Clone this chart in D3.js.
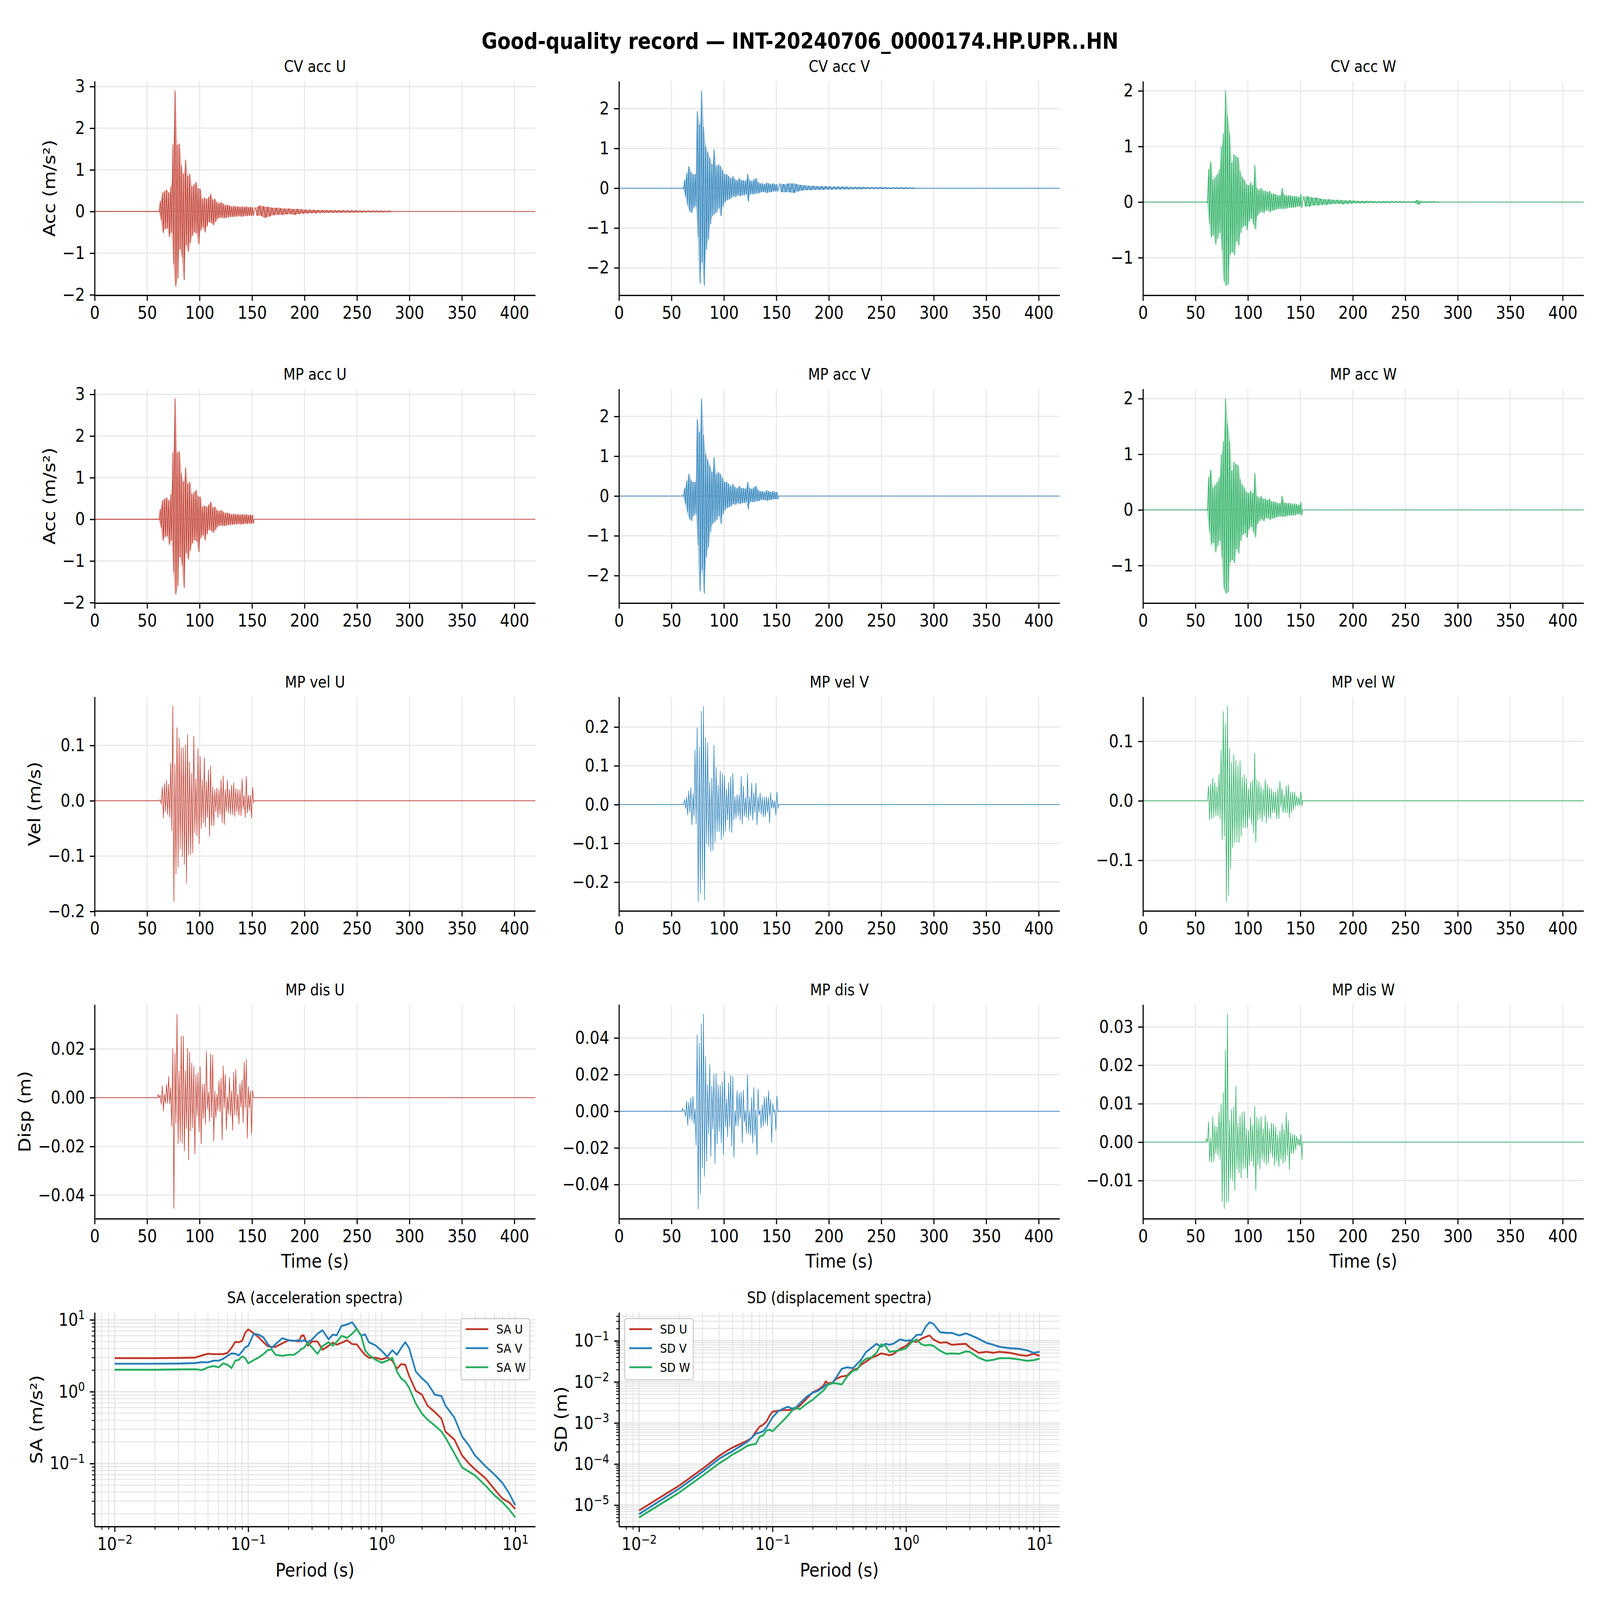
<!DOCTYPE html>
<html>
<head>
<meta charset="utf-8">
<script src="https://cdn.jsdelivr.net/npm/d3@7"></script>
<style>
  html, body { margin: 0; padding: 0; background: #fff; overflow: hidden; }
  svg { display: block; }
</style>
</head>
<body>
<div id="chart"></div>
<script>
// ---- waveform envelope data: max / min of the trace in each time bin ----
const timeDomain = [0, 420];
const timeTicks = [0, 50, 100, 150, 200, 250, 300, 350, 400];
const binT = [60,62,64,66,68,70,72,74,76,78, 80,82,84,86,88,90,92,94,96,98,
  100,102,104,106,108,110,112,114,116,118, 120,122,124,126,128,130,132,134,136,138,
  140,142,144,146,148,150];
const tailT = [152,156,160,164,168,172,176,180,184,188, 192,196,200,204,208,212,216,220,224,228,
  232,236,240,244,248,252,256,260,264,268, 272,276,280];

const accUHi = [0.01,0.25,0.45,0.49,0.52,0.45,0.6,1.6,2.9,1.6, 1.63,1.1,0.9,1.24,0.85,0.9,0.6,0.65,0.7,0.55,
  0.54,0.3,0.33,0.3,0.35,0.42,0.28,0.3,0.22,0.2, 0.22,0.18,0.15,0.16,0.14,0.12,0.13,0.12,0.12,0.11,
  0.12,0.11,0.12,0.1,0.11,0.1];
const accULo = [-0.01,-0.2,-0.51,-0.42,-0.4,-0.61,-0.5,-1.26,-1.8,-1.6, -0.9,-1.1,-1.64,-0.8,-0.96,-0.75,-0.58,-0.5,-0.53,-0.78,
  -0.45,-0.38,-0.5,-0.35,-0.25,-0.28,-0.32,-0.25,-0.18,-0.15, -0.15,-0.16,-0.15,-0.14,-0.13,-0.13,-0.12,-0.12,-0.11,-0.12,
  -0.12,-0.1,-0.11,-0.1,-0.1,-0.1];
const accUTailHi = [0.1,0.14,0.12,0.11,0.09,0.09,0.08,0.07,0.07,0.06, 0.06,0.05,0.045,0.04,0.04,0.035,0.035,0.03,0.03,0.03,
  0.028,0.028,0.025,0.025,0.025,0.022,0.02,0.02,0.02,0.018, 0.018,0.016,0.02];
const accUTailLo = [-0.1,-0.1,-0.15,-0.12,-0.09,-0.08,-0.08,-0.07,-0.06,-0.08, -0.06,-0.05,-0.045,-0.04,-0.04,-0.035,-0.03,-0.03,-0.03,-0.028,
  -0.028,-0.025,-0.025,-0.025,-0.022,-0.022,-0.02,-0.02,-0.02,-0.018, -0.018,-0.016,-0.016];

const accVHi = [0.01,0.2,0.38,0.55,0.4,0.35,0.35,1.93,1.6,2.44, 1.53,1.05,0.9,0.75,0.6,0.97,0.55,0.6,0.55,0.45,
  0.35,0.35,0.3,0.25,0.3,0.22,0.2,0.25,0.2,0.2, 0.18,0.35,0.2,0.18,0.22,0.25,0.15,0.12,0.12,0.1,
  0.14,0.12,0.1,0.12,0.1,0.1];
const accVLo = [-0.01,-0.2,-0.41,-0.58,-0.62,-0.5,-0.45,-1.22,-2.39,-1.85, -2.45,-1.54,-1.28,-0.9,-0.7,-0.65,-0.6,-0.5,-0.7,-0.45,
  -0.35,-0.3,-0.28,-0.25,-0.2,-0.22,-0.18,-0.2,-0.18,-0.18, -0.15,-0.33,-0.15,-0.15,-0.15,-0.13,-0.13,-0.1,-0.1,-0.1,
  -0.12,-0.1,-0.1,-0.08,-0.08,-0.08];
const accVTailHi = [0.12,0.1,0.12,0.12,0.1,0.08,0.07,0.06,0.06,0.05, 0.05,0.05,0.04,0.04,0.04,0.04,0.035,0.03,0.03,0.03,
  0.03,0.025,0.025,0.025,0.025,0.025,0.02,0.02,0.02,0.02, 0.02,0.018,0.015];
const accVTailLo = [-0.1,-0.1,-0.1,-0.12,-0.08,-0.06,-0.05,-0.05,-0.04,-0.04, -0.04,-0.035,-0.035,-0.03,-0.03,-0.03,-0.03,-0.025,-0.025,-0.025,
  -0.02,-0.02,-0.02,-0.02,-0.02,-0.02,-0.02,-0.018,-0.018,-0.018, -0.015,-0.015,-0.015];

const accWHi = [0.01,0.59,0.72,0.4,0.45,0.5,0.58,0.99,1.23,2.0, 1.55,1.23,0.7,0.86,0.82,0.8,0.55,0.45,0.4,0.32,
  0.3,0.35,0.3,0.66,0.25,0.22,0.25,0.2,0.2,0.18, 0.2,0.15,0.15,0.14,0.12,0.12,0.25,0.13,0.12,0.12,
  0.12,0.1,0.11,0.1,0.09,0.14];
const accWLo = [-0.01,-0.38,-0.63,-0.59,-0.76,-0.65,-0.55,-0.86,-1.42,-1.5, -1.48,-0.94,-0.9,-0.95,-0.7,-0.78,-0.55,-0.45,-0.42,-0.5,
  -0.35,-0.3,-0.4,-0.49,-0.25,-0.2,-0.17,-0.2,-0.15,-0.15, -0.18,-0.15,-0.15,-0.13,-0.12,-0.12,-0.12,-0.12,-0.11,-0.1,
  -0.1,-0.1,-0.09,-0.08,-0.08,-0.1];
const accWTailHi = [0.1,0.1,0.08,0.08,0.06,0.05,0.05,0.04,0.04,0.035, 0.03,0.03,0.025,0.02,0.02,0.02,0.018,0.015,0.015,0.015,
  0.015,0.015,0.015,0.015,0.012,0.012,0.012,0.035,0.015,0.012, 0.012,0.012,0.01];
const accWTailLo = [-0.08,-0.08,-0.06,-0.06,-0.05,-0.05,-0.04,-0.03,-0.03,-0.04, -0.03,-0.025,-0.02,-0.02,-0.02,-0.018,-0.015,-0.015,-0.015,-0.015,
  -0.015,-0.012,-0.012,-0.012,-0.012,-0.012,-0.012,-0.045,-0.012,-0.012, -0.01,-0.01,-0.01];
const accNoise = [0.008, 0.003, 0.004];

const velUHi = [0,0.002,0.025,0.031,0.037,0.03,0.068,0.171,0.066,0.132, 0.114,0.096,0.096,0.101,0.12,0.07,0.05,0.117,0.04,0.094,
  0.08,0.038,0.078,0.035,0.056,0.063,0.025,0.02,0.023,0.02, 0.038,0.045,0.02,0.037,0.02,0.028,0.032,0.022,0.02,0.02,
  0.039,0.01,0.044,0.01,0.01,0.0245];
const velULo = [0,-0.006,-0.031,-0.02,-0.025,-0.03,-0.054,-0.182,-0.132,-0.12, -0.087,-0.101,-0.115,-0.149,-0.098,-0.097,-0.094,-0.058,-0.063,-0.077,
  -0.05,-0.04,-0.047,-0.03,-0.064,-0.045,-0.045,-0.02,-0.03,-0.025, -0.039,-0.043,-0.02,-0.022,-0.025,-0.025,-0.028,-0.02,-0.026,-0.027,
  -0.015,-0.03,-0.022,-0.018,-0.031,-0.003];
const velVHi = [0,0.013,0.019,0.035,0.043,0.027,0.141,0.198,0.148,0.24, 0.253,0.173,0.16,0.058,0.068,0.153,0.096,0.05,0.086,0.08,
  0.075,0.04,0.057,0.071,0.081,0.02,0.025,0.025,0.072,0.048, 0.018,0.079,0.02,0.055,0.03,0.055,0.02,0.03,0.02,0.02,
  0.02,0.018,0.03,0.012,0.01,0.032];
const velVLo = [0,-0.01,-0.027,-0.02,-0.052,-0.03,-0.05,-0.25,-0.23,-0.192, -0.246,-0.1,-0.108,-0.12,-0.118,-0.097,-0.07,-0.07,-0.091,-0.08,
  -0.068,-0.04,-0.068,-0.072,-0.04,-0.035,-0.03,-0.04,-0.05,-0.03, -0.033,-0.04,-0.028,-0.04,-0.02,-0.052,-0.02,-0.025,-0.032,-0.03,
  -0.02,-0.047,-0.01,-0.01,-0.027,-0.01];
const velWHi = [0,0.025,0.028,0.038,0.03,0.024,0.045,0.086,0.15,0.13, 0.159,0.088,0.065,0.078,0.068,0.06,0.067,0.04,0.044,0.038,
  0.02,0.032,0.035,0.08,0.035,0.032,0.025,0.02,0.036,0.028, 0.022,0.02,0.015,0.015,0.02,0.033,0.02,0.01,0.025,0.027,
  0.015,0.015,0.015,0.008,0.006,0.015];
const velWLo = [0,-0.032,-0.03,-0.028,-0.025,-0.026,-0.03,-0.065,-0.06,-0.169, -0.159,-0.114,-0.079,-0.07,-0.069,-0.07,-0.06,-0.045,-0.046,-0.045,
  -0.03,-0.04,-0.054,-0.07,-0.032,-0.03,-0.035,-0.026,-0.037,-0.028, -0.03,-0.02,-0.02,-0.03,-0.03,-0.01,-0.02,-0.02,-0.02,-0.028,
  -0.02,-0.015,-0.01,-0.008,-0.008,-0.009];

const disUHi = [0.0014,0.001,0.0048,0.0015,0.0054,0.0087,0.0042,0.0201,0.0183,0.0342, 0.011,0.0252,0.0253,0.011,0.0204,0.0187,0.0142,0.0128,0.0095,0.0102,
  0.0127,0.0055,0.0056,0.0189,0.0023,0.018,0.0175,0.0028,0.0015,0.007, 0.0081,0.013,0.0095,0.0004,0.0083,0.0029,0.0104,0.0115,0.0015,0.0058,
  0.0073,0.0146,0.0156,0.0045,0.0028,0.003];
const disULo = [0,-0.0027,-0.0055,-0.0023,-0.0023,-0.0025,-0.0118,-0.0454,-0.0105,-0.0188, -0.018,-0.0187,-0.0218,-0.0127,-0.0255,-0.0136,-0.0125,-0.0229,-0.0075,-0.014,
  -0.0189,-0.0085,-0.0109,-0.0045,-0.0099,-0.0082,-0.0178,-0.0082,-0.0052,-0.0058, -0.0174,-0.004,-0.0132,-0.0067,-0.0075,-0.0133,-0.007,-0.0075,-0.0108,-0.0038,
  -0.0103,-0.0042,-0.0166,-0.004,-0.0148,0];
const disVHi = [0.0017,0.0004,0.0055,0.0048,0.0072,0.0082,0.0012,0.0416,0.0371,0.0479, 0.053,0.0297,0.0145,0.0254,0.0138,0.0201,0.0205,0.0142,0.0142,0.016,
  0.0218,0.0068,0.0155,0.0195,0.0189,0.0003,0.011,0.01,0.0102,0.0115, 0.0005,0.0197,0.0002,0.0075,0.013,0.0008,0.012,0.0005,0.0035,0.0078,
  0.008,0.0112,0.0065,0.0042,0.0008,0.0082];
const disVLo = [0,-0.003,-0.0077,-0.0043,-0.0053,-0.0068,-0.0185,-0.0532,-0.0451,-0.031, -0.0355,-0.0273,-0.0125,-0.0246,-0.0098,-0.0285,-0.0178,-0.011,-0.017,-0.0236,
  -0.0085,-0.014,-0.0085,-0.019,-0.0251,-0.008,-0.008,-0.004,-0.0172,-0.006, -0.012,-0.0123,-0.013,-0.0174,-0.0132,-0.0238,-0.002,-0.0092,-0.008,-0.0065,
  -0.008,-0.0025,-0.017,-0.0005,-0.0104,-0.0005];
const disWHi = [0.0009,0.0053,0.001,0.0066,0.0043,0.004,0.0077,0.0099,0.0129,0.024, 0.0333,0.0058,0.0085,0.0092,0.0145,0.005,0.007,0.0077,0.008,0.0035,
  0.003,0.0066,0.0045,0.0093,0.0065,0.006,0.0067,0.0035,0.007,0.0053, 0.0035,0.005,0.0048,0.004,0.002,0.003,0.0048,0.0035,0.0076,0.0055,
  0.0025,0.002,0.002,0.0015,0.0008,0.002];
const disWLo = [0,-0.005,-0.0053,-0.005,-0.003,-0.0035,-0.0045,-0.0155,-0.0173,-0.0157, -0.0154,-0.0095,-0.01,-0.0125,-0.007,-0.008,-0.0093,-0.007,-0.0068,-0.0094,
  -0.006,-0.005,-0.0065,-0.0125,-0.006,-0.007,-0.0045,-0.0053,-0.006,-0.0055, -0.003,-0.004,-0.006,-0.005,-0.0063,-0.0045,-0.0055,-0.005,-0.0035,-0.0072,
  -0.003,-0.003,-0.002,-0.0008,-0.001,-0.0045];

// ---- response spectra ----
const periods = [0.01,0.02,0.03,0.04,0.045,0.05,0.055,0.06,0.065,0.07, 0.075,0.08,0.085,0.09,0.095,0.1,0.11,0.12,0.13,0.14,
  0.15,0.16,0.18,0.2,0.22,0.24,0.25,0.26,0.28,0.3, 0.33,0.36,0.4,0.43,0.46,0.5,0.55,0.6,0.65,0.7,
  0.75,0.8,0.9,1.0,1.1,1.2,1.3,1.4,1.5,1.6, 1.8,2.0,2.2,2.5,2.8,3.0,3.5,4.0,4.5,5.0, 6.0,7.0,8.0,9.0,10.0];
const saU = [2.93,2.93,2.95,2.98,3.2,3.37,3.33,3.33,3.33,3.47, 4.08,4.94,4.88,5.1,6.6,7.36,6.5,5.7,4.88,4.3,
  4.2,4.2,4.7,5.2,5.1,5.0,6.0,6.1,4.35,5.0, 5.0,3.83,4.35,4.8,4.5,4.8,5.2,4.6,4.55,3.78,
  3.26,2.97,2.97,2.82,3.0,2.7,2.09,2.42,2.37,1.67, 1.03,0.91,0.64,0.52,0.42,0.278,0.215,0.129,0.1,0.083, 0.062,0.0436,0.0326,0.0288,0.0233];
const saV = [2.45,2.45,2.46,2.5,2.58,2.56,2.7,2.7,2.87,3.16, 3.41,3.37,3.2,3.64,4.14,4.35,6.4,6.2,5.7,4.6,
  4.08,4.58,5.55,5.2,5.1,5.2,5.0,5.2,4.9,5.3, 6.4,7.17,5.35,6.23,6.1,8.24,8.6,9.25,7.5,6.0,
  6.3,4.88,4.4,3.7,3.06,3.78,3.26,4.08,4.88,4.08, 1.9,1.54,1.31,0.91,0.87,0.64,0.435,0.237,0.178,0.129, 0.091,0.07,0.054,0.0385,0.0262];
const saW = [2.02,2.02,2.04,2.05,2.0,2.18,2.27,2.18,2.48,2.37, 2.13,2.7,2.78,3.1,2.93,2.48,2.75,3.0,3.33,3.78,
  3.87,3.26,3.16,3.26,3.26,3.64,3.95,4.03,4.8,4.14, 3.37,4.3,4.88,4.35,4.94,6.0,5.6,6.4,7.5,6.1,
  3.78,3.26,2.78,2.53,2.7,2.97,1.9,1.52,1.38,1.14, 0.68,0.495,0.41,0.337,0.278,0.23,0.138,0.088,0.077,0.068, 0.049,0.036,0.029,0.0229,0.0178];
const sdU = [7.4e-6,2.99e-5,7.74e-5,1.6e-4,2.05e-4,2.51e-4,2.9e-4,3.32e-4,3.71e-4,4.4e-4, 6.15e-4,8.13e-4,9.1e-4,1.08e-3,1.5e-3,1.88e-3,1.99e-3,2.06e-3,2.06e-3,2.1e-3,
  2.23e-3,2.63e-3,3.89e-3,5.63e-3,6.45e-3,8.05e-3,1.03e-2,9.2e-3,9.55e-3,1.19e-2, 1.36e-2,1.41e-2,1.97e-2,2.09e-2,2.61e-2,3.09e-2,3.87e-2,4.32e-2,4.94e-2,4.72e-2,
  4.47e-2,4.72e-2,6.4e-2,7.57e-2,0.1,9.45e-2,0.112,0.125,0.135,0.108, 8.94e-2,9.24e-2,8.0e-2,8.26e-2,8.45e-2,6.92e-2,5.11e-2,5.4e-2,5.11e-2,5.4e-2, 5.11e-2,4.57e-2,4.32e-2,4.83e-2,4.32e-2];
const sdV = [6.04e-6,2.53e-5,6.56e-5,1.36e-4,1.7e-4,2.05e-4,2.5e-4,2.97e-4,3.51e-4,4.4e-4, 5.5e-4,5.81e-4,6.3e-4,7.7e-4,1.05e-3,1.38e-3,1.92e-3,2.23e-3,2.49e-3,2.23e-3,
  2.41e-3,3.01e-3,4.36e-3,5.44e-3,6.1e-3,7.37e-3,8.53e-3,8.53e-3,9.2e-3,1.29e-2, 2.09e-2,2.26e-2,2.16e-2,2.76e-2,3.45e-2,5.28e-2,6.76e-2,8.45e-2,7.14e-2,8.45e-2,
  8.0e-2,8.45e-2,0.108,0.1,0.104,0.14,0.14,0.219,0.283,0.259, 0.162,0.156,0.156,0.135,0.151,0.14,0.112,8.94e-2,8.0e-2,7.14e-2, 6.6e-2,6.4e-2,5.91e-2,5.11e-2,5.4e-2];
const sdW = [5.0e-6,2.02e-5,5.24e-5,1.05e-4,1.33e-4,1.7e-4,2.0e-4,2.37e-4,2.8e-4,2.97e-4, 3.1e-4,4.64e-4,5.02e-4,6.5e-4,6.87e-4,6.3e-4,8.6e-4,1.14e-3,1.5e-3,1.99e-3,
  2.36e-3,2.15e-3,2.94e-3,3.68e-3,4.87e-3,6.1e-3,7.2e-3,8.53e-3,9.33e-3,9.2e-3, 8.7e-3,1.33e-2,1.87e-2,1.97e-2,2.92e-2,3.66e-2,3.95e-2,5.11e-2,8.18e-2,7.57e-2,
  5.4e-2,5.5e-2,5.91e-2,6.6e-2,9.24e-2,0.108,8.26e-2,7.73e-2,8.0e-2,7.57e-2, 5.71e-2,4.83e-2,4.94e-2,4.83e-2,5.52e-2,5.4e-2,3.87e-2,3.27e-2,3.45e-2,3.77e-2, 3.77e-2,3.53e-2,3.27e-2,3.37e-2,3.66e-2];

const compNames = ["U", "V", "W"];
const compColors = ["#c0392b", "#2980b9", "#27ae60"];

// ---- layout (drawn in 4800x4200 units, stretched to the window) ----
const FONT = "DejaVu Sans, sans-serif";
const colX = [284, 1857, 3429];
const rowY = [213, 1021, 1829, 2637, 3445];
const AW = 1322, AH = 562;
const TICK = 14.6, PAD = 14.6, LW = 3.3;
const GRID = "#e8e8e8";

const vw = window.innerWidth || 4800, vh = window.innerHeight || 4200;
const svg = d3.select("#chart").append("svg")
  .attr("viewBox", "0 0 4800 4200")
  .attr("preserveAspectRatio", "none")
  .attr("width", vw).attr("height", vh)
  .attr("font-family", FONT);
svg.append("rect").attr("width", 4800).attr("height", 4200).attr("fill", "#fff");

svg.append("text")
  .attr("x", 2400).attr("y", 128)
  .attr("text-anchor", "middle")
  .attr("font-size", 58).attr("font-weight", "bold")
  .text("Good-quality record \u2014 INT-20240706_0000174.HP.UPR..HN");

function styleAxis(g) {
  g.attr("font-family", FONT).attr("font-size", 46);
  g.selectAll("path.domain").attr("stroke", "#000").attr("stroke-width", LW);
  g.selectAll(".tick line").attr("stroke", "#000").attr("stroke-width", LW);
  g.selectAll(".tick text").attr("fill", "#000");
}

function wavePanel(c, r, p) {
  const g = svg.append("g").attr("transform", `translate(${colX[c]},${rowY[r]})`);
  const x = d3.scaleLinear().domain(timeDomain).range([0, AW]);
  const y = d3.scaleLinear().domain(p.yDomain).range([AH, 0]);

  // grid
  g.append("g").selectAll("line").data(timeTicks).join("line")
    .attr("x1", d => x(d)).attr("x2", d => x(d)).attr("y1", 0).attr("y2", AH)
    .attr("stroke", GRID).attr("stroke-width", LW);
  g.append("g").selectAll("line").data(p.yTicks).join("line")
    .attr("y1", d => y(d)).attr("y2", d => y(d)).attr("x1", 0).attr("x2", AW)
    .attr("stroke", GRID).attr("stroke-width", LW);

  // pre-event noise
  if (p.noise) {
    g.append("rect")
      .attr("x", x(timeDomain[0])).attr("width", x(p.segs[0].t[0]) - x(timeDomain[0]))
      .attr("y", y(p.noise)).attr("height", y(-p.noise) - y(p.noise))
      .attr("fill", p.color).attr("opacity", 0.85);
  }

  // dense records: shade the band between bin minima and maxima
  if (p.dense) {
    p.segs.forEach((s, k) => {
      const band = s.t.map((t, i) => [t + s.w * 0.5, s.hi[i], s.lo[i]]);
      g.append("path")
        .attr("d", d3.area().x(d => x(d[0])).y0(d => y(d[2])).y1(d => y(d[1])).curve(d3.curveMonotoneX)(band))
        .attr("fill", p.color).attr("opacity", k === 0 ? 0.4 : 0.55);
    });
  }

  // trace: zigzag between the bin maxima and minima
  const pts = [[timeDomain[0], 0]];
  p.segs.forEach(s => {
    pts.push([s.t[0], 0]);
    s.t.forEach((t, i) => {
      pts.push([t + s.w * 0.25, s.hi[i]]);
      pts.push([t + s.w * 0.75, s.lo[i]]);
    });
    pts.push([s.t[s.t.length - 1] + s.w, 0]);
  });
  pts.push([timeDomain[1], 0]);
  g.append("path")
    .attr("d", d3.line().x(d => x(d[0])).y(d => y(d[1]))(pts))
    .attr("fill", "none").attr("stroke", p.color)
    .attr("stroke-width", 1.8).attr("stroke-linejoin", "round")
    .attr("opacity", 0.95);

  // axes
  const gx = g.append("g").attr("transform", `translate(0,${AH})`)
    .call(d3.axisBottom(x).tickValues(timeTicks).tickSize(TICK).tickPadding(PAD).tickSizeOuter(0));
  const gy = g.append("g")
    .call(d3.axisLeft(y).tickValues(p.yTicks).tickFormat(d3.format(p.fmt)).tickSize(TICK).tickPadding(PAD).tickSizeOuter(0));
  styleAxis(gx);
  styleAxis(gy);

  g.append("text").attr("x", AW / 2).attr("y", -24)
    .attr("text-anchor", "middle").attr("font-size", 41.7).text(p.title);

  if (p.ylabel) {
    const bb = gy.node().getBBox();
    g.append("text")
      .attr("transform", `translate(${bb.x - 22},${AH / 2}) rotate(-90)`)
      .attr("text-anchor", "middle").attr("font-size", 50).text(p.ylabel);
  }
  if (p.xlabel) {
    g.append("text").attr("x", AW / 2).attr("y", AH + 128)
      .attr("text-anchor", "middle").attr("font-size", 50).text(p.xlabel);
  }
}

const accHi = [accUHi, accVHi, accWHi], accLo = [accULo, accVLo, accWLo];
const accTailHi = [accUTailHi, accVTailHi, accWTailHi], accTailLo = [accUTailLo, accVTailLo, accWTailLo];
const velHi = [velUHi, velVHi, velWHi], velLo = [velULo, velVLo, velWLo];
const disHi = [disUHi, disVHi, disWHi], disLo = [disULo, disVLo, disWLo];

const accDomains = [[-2.01, 3.13], [-2.69, 2.69], [-1.675, 2.175]];
const accTicks = [[-2, -1, 0, 1, 2, 3], [-2, -1, 0, 1, 2], [-1, 0, 1, 2]];
const velDomains = [[-0.199, 0.188], [-0.274, 0.278], [-0.185, 0.175]];
const velTicks = [[-0.2, -0.1, 0, 0.1], [-0.2, -0.1, 0, 0.1, 0.2], [-0.1, 0, 0.1]];
const disDomains = [[-0.0496, 0.0382], [-0.0586, 0.0582], [-0.0199, 0.0358]];
const disTicks = [[-0.04, -0.02, 0, 0.02], [-0.04, -0.02, 0, 0.02, 0.04], [-0.01, 0, 0.01, 0.02, 0.03]];

compNames.forEach((n, c) => {
  const color = compColors[c];
  wavePanel(c, 0, {
    title: `CV acc ${n}`, yDomain: accDomains[c], yTicks: accTicks[c], fmt: "d", color, dense: true,
    noise: accNoise[c], ylabel: c === 0 ? "Acc (m/s\u00b2)" : null,
    segs: [{ t: binT, w: 2, hi: accHi[c], lo: accLo[c] }, { t: tailT, w: 4, hi: accTailHi[c], lo: accTailLo[c] }]
  });
  wavePanel(c, 1, {
    title: `MP acc ${n}`, yDomain: accDomains[c], yTicks: accTicks[c], fmt: "d", color, dense: true,
    noise: accNoise[c], ylabel: c === 0 ? "Acc (m/s\u00b2)" : null,
    segs: [{ t: binT, w: 2, hi: accHi[c], lo: accLo[c] }]
  });
  wavePanel(c, 2, {
    title: `MP vel ${n}`, yDomain: velDomains[c], yTicks: velTicks[c], fmt: ".1f", color,
    ylabel: c === 0 ? "Vel (m/s)" : null,
    segs: [{ t: binT, w: 2, hi: velHi[c], lo: velLo[c] }]
  });
  wavePanel(c, 3, {
    title: `MP dis ${n}`, yDomain: disDomains[c], yTicks: disTicks[c], fmt: ".2f", color,
    ylabel: c === 0 ? "Disp (m)" : null, xlabel: "Time (s)",
    segs: [{ t: binT, w: 2, hi: disHi[c], lo: disLo[c] }]
  });
});

// ---- spectra ----
const periodDomain = [0.00708, 14.13];

function supLabels(sel) {
  sel.selectAll(".tick text").each(function (d) {
    const e = Math.round(Math.log10(d));
    const t = d3.select(this).text(null);
    t.append("tspan").text("10");
    t.append("tspan").attr("font-size", 32).attr("dy", -17)
      .text(e < 0 ? "\u2212" + (-e) : String(e));
  });
}

function specPanel(c, p) {
  const g = svg.append("g").attr("transform", `translate(${colX[c]},${rowY[4]})`);
  const x = d3.scaleLog().domain(periodDomain).range([0, AW]);
  const y = d3.scaleLog().domain(p.yDomain).range([AH, 0]);
  const isMajor = d => Math.abs(Math.log10(d) - Math.round(Math.log10(d))) < 1e-6;
  const xAll = x.ticks(), yAll = y.ticks();
  const xMaj = xAll.filter(isMajor), xMin = xAll.filter(d => !isMajor(d));
  const yMaj = yAll.filter(isMajor), yMin = yAll.filter(d => !isMajor(d));

  g.append("g").selectAll("line").data(xAll).join("line")
    .attr("x1", d => x(d)).attr("x2", d => x(d)).attr("y1", 0).attr("y2", AH)
    .attr("stroke", "#e4e4e4").attr("stroke-width", d => isMajor(d) ? LW : 2.6);
  g.append("g").selectAll("line").data(yAll).join("line")
    .attr("y1", d => y(d)).attr("y2", d => y(d)).attr("x1", 0).attr("x2", AW)
    .attr("stroke", "#e4e4e4").attr("stroke-width", d => isMajor(d) ? LW : 2.6);

  const line = d3.line().x(d => x(d[0])).y(d => y(d[1]));
  p.series.forEach((s, i) => {
    g.append("path").attr("d", line(periods.map((T, k) => [T, s[k]])))
      .attr("fill", "none").attr("stroke", compColors[i])
      .attr("stroke-width", 5).attr("stroke-linejoin", "round");
  });

  const gx = g.append("g").attr("transform", `translate(0,${AH})`)
    .call(d3.axisBottom(x).tickValues(xMaj).tickSize(TICK).tickPadding(PAD).tickSizeOuter(0));
  const gxm = g.append("g").attr("transform", `translate(0,${AH})`)
    .call(d3.axisBottom(x).tickValues(xMin).tickSize(8.3).tickFormat("").tickSizeOuter(0));
  const gy = g.append("g")
    .call(d3.axisLeft(y).tickValues(yMaj).tickSize(TICK).tickPadding(PAD).tickSizeOuter(0));
  const gym = g.append("g")
    .call(d3.axisLeft(y).tickValues(yMin).tickSize(8.3).tickFormat("").tickSizeOuter(0));
  [gx, gy, gxm, gym].forEach(styleAxis);
  [gxm, gym].forEach(a => {
    a.select("path.domain").remove();
    a.selectAll(".tick line").attr("stroke-width", 2.5);
  });
  supLabels(gx);
  supLabels(gy);

  g.append("text").attr("x", AW / 2).attr("y", -24)
    .attr("text-anchor", "middle").attr("font-size", 41.7).text(p.title);
  const bb = gy.node().getBBox();
  g.append("text")
    .attr("transform", `translate(${bb.x - 22},${AH / 2}) rotate(-90)`)
    .attr("text-anchor", "middle").attr("font-size", 50).text(p.ylabel);
  g.append("text").attr("x", AW / 2).attr("y", AH + 131)
    .attr("text-anchor", "middle").attr("font-size", 50).text("Period (s)");

  // legend
  const lw = 206, lh = 161;
  const lx = p.legendRight ? AW - 17 - lw : 17, ly = 16;
  const lg = g.append("g").attr("transform", `translate(${lx},${ly})`);
  lg.append("rect").attr("width", lw).attr("height", lh).attr("rx", 7)
    .attr("fill", "#fff").attr("fill-opacity", 0.8)
    .attr("stroke", "#d0d0d0").attr("stroke-width", 3.3);
  compNames.forEach((n, i) => {
    const cy = 28 + i * 50;
    lg.append("line").attr("x1", 14).attr("x2", 82).attr("y1", cy).attr("y2", cy)
      .attr("stroke", compColors[i]).attr("stroke-width", 5);
    lg.append("text").attr("x", 106).attr("y", cy + 12).attr("font-size", 33.3)
      .text(`${p.prefix} ${n}`);
  });
}

specPanel(0, { title: "SA (acceleration spectra)", ylabel: "SA (m/s\u00b2)", prefix: "SA",
  yDomain: [0.0133, 12.7], series: [saU, saV, saW], legendRight: true });
specPanel(1, { title: "SD (displacement spectra)", ylabel: "SD (m)", prefix: "SD",
  yDomain: [3.02e-6, 0.493], series: [sdU, sdV, sdW], legendRight: false });
</script>
</body>
</html>
